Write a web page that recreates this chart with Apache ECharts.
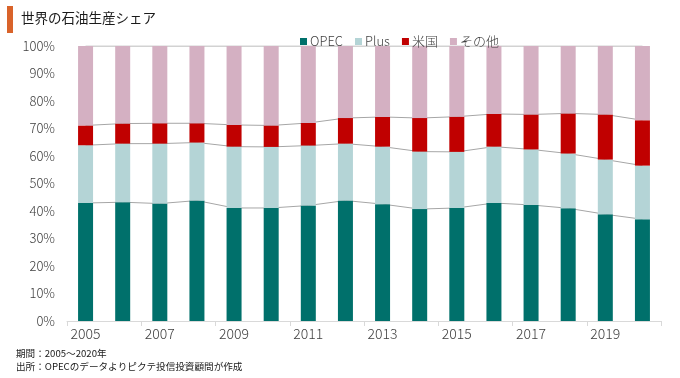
<!DOCTYPE html>
<html><head><meta charset="utf-8">
<script src="https://cdn.jsdelivr.net/npm/echarts@6/dist/echarts.min.js"></script>
<style>html,body{margin:0;padding:0;background:#fff}#c{width:680px;height:378px}</style>
</head><body><div id="c"></div>
<script>
const years = ['2005','2006','2007','2008','2009','2010','2011','2012','2013','2014','2015','2016','2017','2018','2019','2020'];
const opec  = [42.9,43.2,42.7,43.8,41.1,41.1,42.0,43.8,42.5,40.7,41.1,42.9,42.2,41.0,38.8,37.0];
const plus  = [21.0,21.3,21.8,21.1,22.3,22.2,21.8,20.7,20.9,20.9,20.4,20.5,20.2,19.9,19.9,19.5];
const usa   = [7.2,7.3,7.4,7.0,7.9,7.8,8.2,9.3,10.8,12.2,12.8,11.9,12.7,14.6,16.4,16.5];
const seriesNames = ['OPEC','Plus','米国','その他'];
const yTicks = [0,10,20,30,40,50,60,70,80,90,100];

const others = years.map((_, i) => +(100 - opec[i] - plus[i] - usa[i]).toFixed(1));
const cum1 = opec.slice();
const cum2 = opec.map((v, i) => +(v + plus[i]).toFixed(1));
const cum3 = opec.map((v, i) => +(v + plus[i] + usa[i]).toFixed(1));
const cum4 = years.map(() => 100);

const colors = ['#00706B', '#B4D4D6', '#C00000', '#D4B0C2'];
const font = '"Noto Sans CJK JP", "Noto Sans", sans-serif';

const chart = echarts.init(document.getElementById('c'), null, {renderer: 'canvas'});
const barData = [opec, plus, usa, others];
const series = barData.map((d, k) => ({
  name: seriesNames[k], type: 'bar', stack: 'total', data: d, barWidth: 15,
  itemStyle: {color: colors[k]}, z: 3
}));
[cum1, cum2, cum3, cum4].forEach(d => series.push({
  type: 'line', data: d, symbol: 'none', silent: true, z: 1,
  lineStyle: {color: '#A6A6A6', width: 1}
}));

chart.setOption({
  animation: false,
  color: colors,
  textStyle: {fontFamily: font},
  grid: {left: 67, right: 19, top: 46, bottom: 57},
  graphic: [
    {type: 'rect', left: 7, top: 6, shape: {width: 6, height: 27}, style: {fill: '#D9632A'}},
    {type: 'text', left: 21, top: 11, style: {text: '世界の石油生産シェア', font: '400 13.5px ' + font, fill: '#1a1a1a'}},
    {type: 'text', left: 16, top: 349, style: {text: '期間：2005～2020年', font: '400 9.6px ' + font, fill: '#1a1a1a'}},
    {type: 'text', left: 16, top: 362, style: {text: '出所：OPECのデータよりピクテ投信投資顧問が作成', font: '400 9.6px ' + font, fill: '#1a1a1a'}}
  ],
  legend: {
    data: seriesNames, left: 295, top: 30, itemWidth: 7, itemHeight: 7, itemGap: 12,
    icon: 'rect', textStyle: {fontSize: 13, fontWeight: 300, color: '#404040', fontFamily: font, padding: [0,0,0,-2]}
  },
  xAxis: {
    type: 'category', data: years,
    axisLine: {lineStyle: {color: '#D9D9D9'}},
    axisTick: {show: true, length: 5, lineStyle: {color: '#D9D9D9'}},
    axisLabel: {interval: 1, color: '#404040', fontSize: 14, fontWeight: 300, margin: 6, fontFamily: font}
  },
  yAxis: {
    type: 'value', min: yTicks[0], max: yTicks[yTicks.length - 1], interval: 10,
    axisLine: {show: false}, axisTick: {show: false}, splitLine: {show: false},
    axisLabel: {formatter: '{value}%', color: '#404040', fontSize: 13, fontWeight: 300, margin: 12, fontFamily: font}
  },
  series: series
});
</script></body></html>
